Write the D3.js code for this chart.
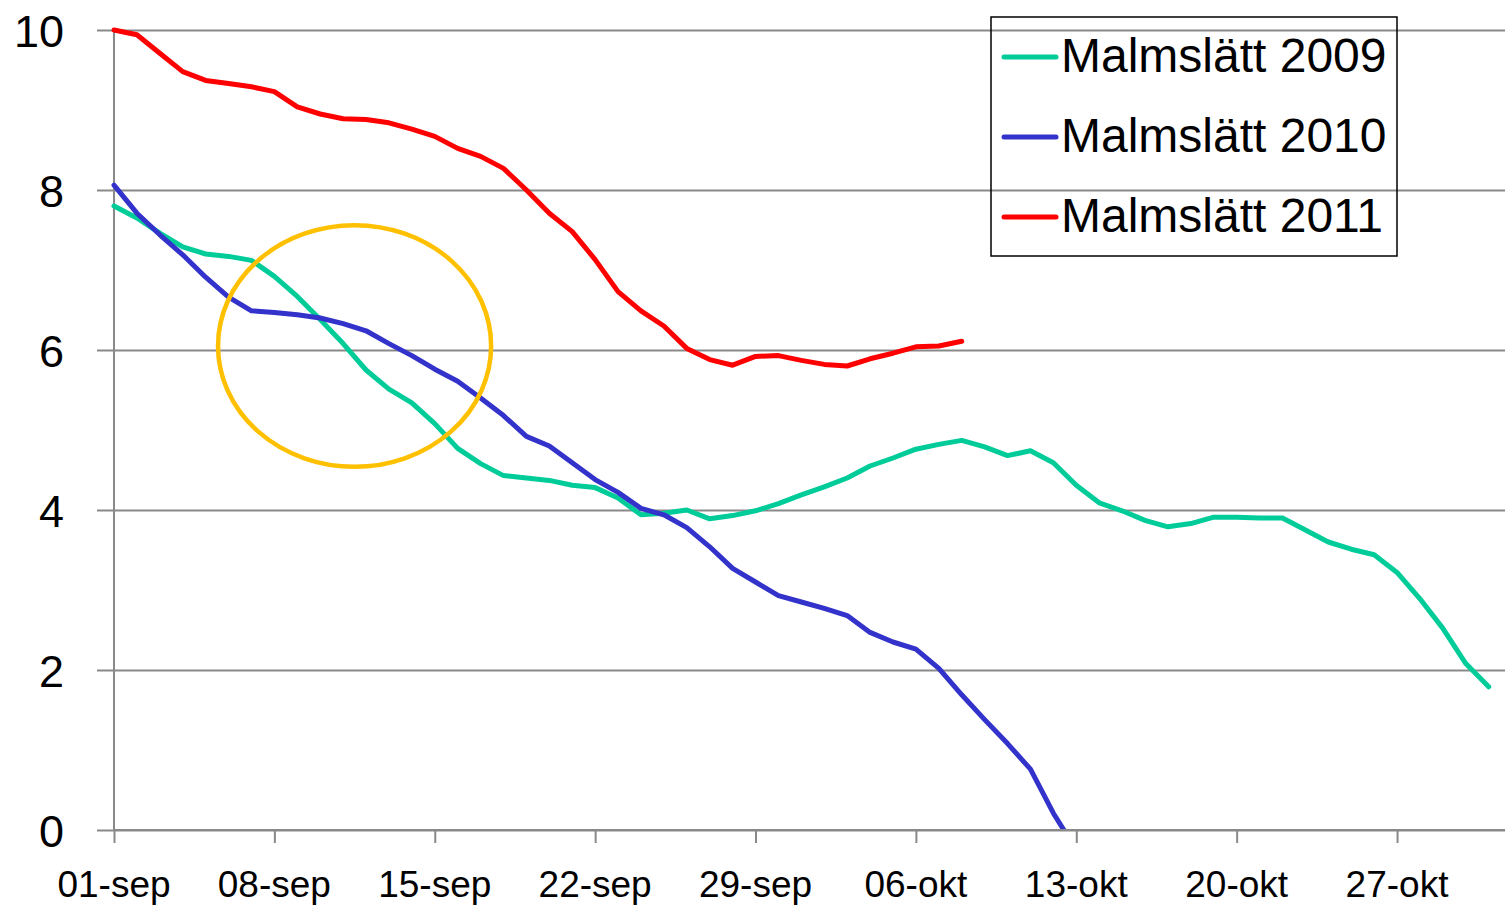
<!DOCTYPE html>
<html>
<head>
<meta charset="utf-8">
<script src="https://cdn.jsdelivr.net/npm/d3@7"></script>
<style>
  body { margin: 0; background: #fff; }
  text { font-family: "Liberation Sans", Arial, sans-serif; fill: #000; }
</style>
</head>
<body>
<div id="chart"></div>
<script>
var width = 1505,
    height = 905;

// daily values from 01-sep
var startDate = new Date(Date.UTC(2009, 8, 1));
var endDate = new Date(Date.UTC(2009, 10, 1));

var seriesNames = ["Malmslätt 2009", "Malmslätt 2010", "Malmslätt 2011"];
var seriesColours = ["#00cc99", "#3333cc", "#ff0000"];

var malmslatt2009 = [7.80, 7.65, 7.46, 7.29, 7.20, 7.17, 7.12, 6.92, 6.67, 6.38,
  6.08, 5.75, 5.51, 5.34, 5.08, 4.77, 4.58, 4.43, 4.40, 4.37,
  4.31, 4.28, 4.15, 3.94, 3.96, 4.00, 3.89, 3.93, 3.99, 4.08,
  4.19, 4.29, 4.40, 4.55, 4.65, 4.76, 4.82, 4.87, 4.79, 4.68,
  4.74, 4.59, 4.31, 4.09, 3.99, 3.87, 3.79, 3.83, 3.91, 3.91,
  3.90, 3.90, 3.75, 3.60, 3.51, 3.44, 3.22, 2.89, 2.52, 2.08, 1.79];

var malmslatt2010 = [8.06, 7.71, 7.44, 7.19, 6.91, 6.66, 6.49, 6.47, 6.44, 6.40,
  6.33, 6.24, 6.08, 5.93, 5.76, 5.61, 5.40, 5.18, 4.92, 4.80,
  4.59, 4.38, 4.22, 4.02, 3.94, 3.78, 3.54, 3.27, 3.10, 2.93,
  2.85, 2.77, 2.68, 2.47, 2.35, 2.26, 2.02, 1.69, 1.38, 1.08,
  0.76, 0.21, -0.25];

var malmslatt2011 = [10.0, 9.94, 9.71, 9.48, 9.37, 9.33, 9.29, 9.23, 9.04, 8.95,
  8.89, 8.88, 8.84, 8.76, 8.67, 8.52, 8.42, 8.27, 8.00, 7.71,
  7.48, 7.13, 6.73, 6.49, 6.30, 6.02, 5.88, 5.81, 5.92, 5.93,
  5.87, 5.82, 5.80, 5.89, 5.96, 6.04, 6.05, 6.11];

var yTicks = [0, 2, 4, 6, 8, 10];
var xTickLabels = ["01-sep", "08-sep", "15-sep", "22-sep", "29-sep", "06-okt", "13-okt", "20-okt", "27-okt"];

// the gold ring drawn around the crossing (centre day, centre value, radius in days / values)
var ringCentre = [10.5, 6.05],
    ringRadius = [5.96, 1.51];

var x = d3.scaleUtc()
    .domain([startDate, endDate])
    .range([114, 1511.6]);

var y = d3.scaleLinear()
    .domain([0, 10])
    .range([830, 30]);

function dayDate(i) {
  return d3.utcDay.offset(startDate, i);
}

var svg = d3.select("#chart").append("svg")
    .attr("width", width)
    .attr("height", height);

svg.append("defs").append("clipPath")
    .attr("id", "plotClip")
  .append("rect")
    .attr("x", 0)
    .attr("y", 0)
    .attr("width", width)
    .attr("height", y(0));

// gridlines + y ticks
svg.append("g")
    .attr("class", "grid")
    .attr("transform", "translate(" + x(startDate) + ",0)")
    .call(d3.axisLeft(y).tickValues(yTicks).tickSize(-(width - x(startDate) + 20)).tickSizeOuter(0).tickFormat(""))
    .call(function(g) {
      g.select(".domain").remove();
      g.selectAll(".tick line")
        .attr("x1", -17)
        .attr("stroke", "#898989")
        .attr("stroke-width", 2);
    });

svg.append("line")
    .attr("x1", x(startDate))
    .attr("x2", x(startDate))
    .attr("y1", y(10))
    .attr("y2", y(0))
    .attr("stroke", "#898989")
    .attr("stroke-width", 2);

svg.selectAll(".ylabel")
    .data(yTicks)
    .enter()
    .append("text")
    .attr("class", "ylabel")
    .attr("x", 64)
    .attr("y", function(d) { return y(d) + 16.5; })
    .attr("text-anchor", "end")
    .style("font-size", "45px")
    .text(function(d) { return d; });

// x axis ticks every week
var xTickDates = xTickLabels.map(function(d, i) { return dayDate(i * 7); });

svg.append("g")
    .attr("transform", "translate(0," + y(0) + ")")
    .call(d3.axisBottom(x).tickValues(xTickDates).tickSize(13).tickFormat(""))
    .call(function(g) {
      g.select(".domain").remove();
      g.selectAll(".tick line")
        .attr("stroke", "#898989")
        .attr("stroke-width", 2);
    });

svg.selectAll(".xlabel")
    .data(xTickLabels)
    .enter()
    .append("text")
    .attr("class", "xlabel")
    .attr("x", function(d, i) { return x(xTickDates[i]); })
    .attr("y", 897)
    .attr("text-anchor", "middle")
    .style("font-size", "37px")
    .text(function(d) { return d; });

// lines
var line = d3.line()
    .x(function(d, i) { return x(dayDate(i)); })
    .y(function(d) { return y(d); });

var allSeries = [malmslatt2009, malmslatt2010, malmslatt2011];

svg.append("g")
    .attr("clip-path", "url(#plotClip)")
    .selectAll("path")
    .data(allSeries)
    .enter()
    .append("path")
    .attr("d", line)
    .attr("fill", "none")
    .attr("stroke", function(d, i) { return seriesColours[i]; })
    .attr("stroke-width", 5)
    .attr("stroke-linejoin", "round")
    .attr("stroke-linecap", "round");

// x axis base line on top of the gridline
svg.append("line")
    .attr("x1", x(startDate))
    .attr("x2", width)
    .attr("y1", y(0))
    .attr("y2", y(0))
    .attr("stroke", "#898989")
    .attr("stroke-width", 2);

// annotation ring
svg.append("ellipse")
    .attr("cx", x(dayDate(0)) + (x(dayDate(1)) - x(dayDate(0))) * ringCentre[0])
    .attr("cy", y(ringCentre[1]))
    .attr("rx", (x(dayDate(1)) - x(dayDate(0))) * ringRadius[0])
    .attr("ry", y(0) - y(ringRadius[1]))
    .attr("fill", "none")
    .attr("stroke", "#ffc000")
    .attr("stroke-width", 4.5);

// legend
var legend = svg.append("g")
    .attr("transform", "translate(991,17)");

legend.append("rect")
    .attr("width", 406)
    .attr("height", 239)
    .attr("fill", "none")
    .attr("stroke", "#000")
    .attr("stroke-width", 1.5);

var items = legend.selectAll(".item")
    .data(seriesNames)
    .enter()
    .append("g")
    .attr("class", "item")
    .attr("transform", function(d, i) { return "translate(0," + (40 + i * 80) + ")"; });

items.append("line")
    .attr("x1", 13)
    .attr("x2", 65)
    .attr("stroke", function(d, i) { return seriesColours[i]; })
    .attr("stroke-width", 5)
    .attr("stroke-linecap", "round");

items.append("text")
    .attr("x", 70)
    .attr("y", 15)
    .style("font-size", "48px")
    .text(function(d) { return d; });
</script>
</body>
</html>
